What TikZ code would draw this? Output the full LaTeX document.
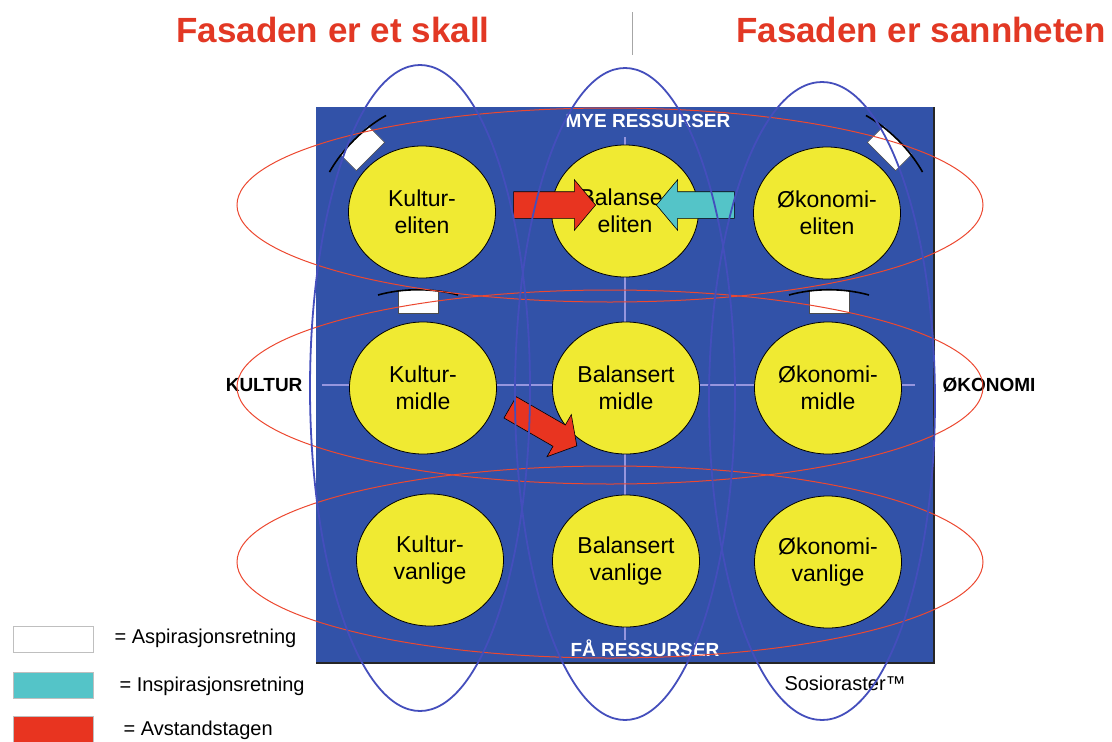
\documentclass[tikz,border=0pt]{standalone}
\usepackage{fontspec}
\setmainfont{Liberation Sans}
\usetikzlibrary{shapes.geometric,shapes.arrows}

\definecolor{boxblue}{RGB}{50,82,168}
\definecolor{cellyellow}{RGB}{240,234,50}
\definecolor{avred}{RGB}{232,52,32}
\definecolor{titlered}{RGB}{226,56,36}
\definecolor{inspcyan}{RGB}{84,196,200}
\definecolor{rowred}{RGB}{236,72,48}
\definecolor{colblue}{RGB}{68,78,188}
\definecolor{crossline}{RGB}{150,150,222}

\tikzset{
  cell/.style={ellipse, draw=black, line width=0.8pt, fill=cellyellow,
    minimum width=147pt, minimum height=132pt, inner sep=0pt, align=center,
    font=\fontsize{23}{27}\selectfont},
  fatarrow/.style={single arrow, draw=black, line width=0.6pt,
    single arrow head extend=12pt, single arrow tip angle=100,
    inner xsep=0pt, inner ysep=13pt},
  rowring/.style={draw=rowred, line width=1pt},
  colring/.style={draw=colblue, line width=1.8pt},
  legbox/.style={draw=black!25, minimum width=80pt, minimum height=26pt, inner sep=0pt},
  legtext/.style={anchor=west, font=\fontsize{20}{22}\selectfont},
  aspir/.pic={
    \fill[white] (-20,-11) rectangle (20,12);
    \draw[black!70, line width=0.6pt] (-20,-11) -- (-20,12) -- (20,12) -- (20,-11);
    \draw[black, line width=1.6pt] (-40,-6) .. controls (-15,-13) and (15,-13) .. (40,-6);
  }
}

\begin{document}
\begin{tikzpicture}[x=1pt, y=-1pt]
    \useasboundingbox (0,0) rectangle (1112,742);

    % Titles
    \node [text=titlered, font=\bfseries\fontsize{35}{38}\selectfont] (ttlskall) at (333,30) {Fasaden er et skall};
    \node [text=titlered, font=\bfseries\fontsize{35}{38}\selectfont] (ttlsann) at (921,30) {Fasaden er sannheten};
    \coordinate (sept) at (632,12);
    \coordinate (sepb) at (632,55);
    \draw [black!35, line width=1pt] (sept) -- (sepb);

    % Raster
    \fill [boxblue] (316,107) rectangle (934,663);
    \draw [black!85, line width=1.2pt] (316,663) -- (934,663) -- (934,107);
    \coordinate (hl) at (322,385);
    \coordinate (hr) at (915,385);
    \coordinate (vt) at (625,137);
    \coordinate (vb) at (625,640);
    \draw [crossline, line width=1.2pt] (hl) -- (hr);
    \draw [crossline, line width=1.2pt] (vt) -- (vb);

    \node [cell] (kelite) at (422,212) {Kultur-\\eliten};
    \node [cell] (belite) at (625,211) {Balanse-\\eliten};
    \node [cell] (oelite) at (827,213) {Økonomi-\\eliten};
    \node [cell] (kmidle) at (423,388) {Kultur-\\midle};
    \node [cell] (bmidle) at (626,388) {Balansert\\midle};
    \node [cell] (omidle) at (828,388) {Økonomi-\\midle};
    \node [cell] (kvanlige) at (430,560) {Kultur-\\vanlige};
    \node [cell] (bvanlige) at (626,561) {Balansert\\vanlige};
    \node [cell] (ovanlige) at (828,562) {Økonomi-\\vanlige};

    % Arrows
    \node [fatarrow, fill=avred, minimum height=82pt] (arrkb) at (549,205) {};
    \node [fatarrow, fill=inspcyan, minimum height=78pt, shape border rotate=180] (arrob) at (701,205) {};
    \node [fatarrow, fill=avred, minimum height=77pt, inner ysep=12pt, rotate=-30] (arrkm) at (539,424) {};

    \pic [rotate=45] at (362,148) {aspir};
    \pic [rotate=-45] at (890,148) {aspir};
    \pic at (418,301) {aspir};
    \pic at (829,301) {aspir};

    % Axis labels
    \node [text=white, font=\bfseries\fontsize{19}{21}\selectfont] (lblmye) at (648,121) {MYE RESSURSER};
    \node [text=white, font=\bfseries\fontsize{19}{21}\selectfont] (lblfa) at (645,648) {FÅ RESSURSER};
    \node [anchor=east, font=\bfseries\fontsize{19}{21}\selectfont] (lblkultur) at (306,385) {KULTUR};
    \node [anchor=west, font=\bfseries\fontsize{19}{21}\selectfont] (lbloko) at (939,385) {ØKONOMI};
    \node [anchor=west, font=\fontsize{20}{22}\selectfont] (sosio) at (781,683) {Sosioraster™};

    % Rings
    \coordinate (rowelite) at (610,205);
    \coordinate (rowmidle) at (610,387);
    \coordinate (rowvanlige) at (610,562);
    \draw [rowring] (rowelite) ellipse [x radius=373, y radius=97];
    \draw [rowring] (rowmidle) ellipse [x radius=373, y radius=97];
    \draw [rowring] (rowvanlige) ellipse [x radius=373, y radius=96];
    \coordinate (colkultur) at (420,388);
    \coordinate (colbalanse) at (625,394);
    \coordinate (colokonomi) at (822,401);
    \draw [colring] (colkultur) ellipse [x radius=110, y radius=323];
    \draw [colring] (colbalanse) ellipse [x radius=110, y radius=326];
    \draw [colring] (colokonomi) ellipse [x radius=113, y radius=319];

    % Legend
    \node [legbox, fill=white] (legasp) at (53,639) {};
    \node [legbox, fill=inspcyan] (legins) at (53,685) {};
    \node [legbox, fill=avred] (legavs) at (53,729) {};
    \node [legtext] (txtasp) at (111,638) {= Aspirasjonsretning};
    \node [legtext] (txtins) at (116,686) {= Inspirasjonsretning};
    \node [legtext] (txtavs) at (120,730) {= Avstandstagen};
\end{tikzpicture}
\end{document}
